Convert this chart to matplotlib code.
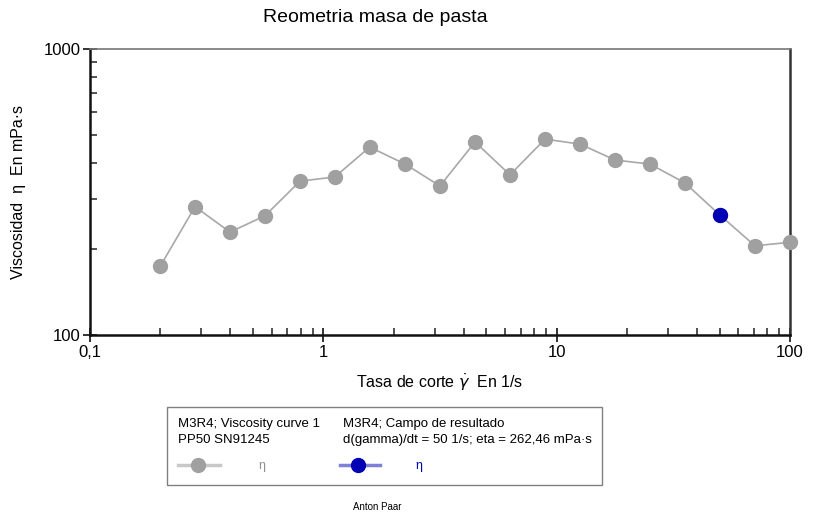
import matplotlib.pyplot as plt
import matplotlib.ticker as mticker
from matplotlib.lines import Line2D
from matplotlib.patches import Rectangle

plt.rcParams['font.family'] = ['Liberation Sans', 'DejaVu Sans']

# shear rate (1/s) and viscosity (mPa.s)
shear_rate = [0.2, 0.282, 0.398, 0.562, 0.794, 1.12, 1.58, 2.24, 3.16, 4.47,
              6.31, 8.91, 12.6, 17.8, 25.1, 35.5, 50.1, 70.8, 100]
viscosity = [174, 281, 229, 261, 345, 357, 454, 396, 332, 473,
             363, 484, 465, 409, 396, 340, 262.46, 205, 211]
# result point
res_x = [50.1]
res_y = [262.46]

W, H = 813, 522
fig = plt.figure(figsize=(W / 100, H / 100), dpi=100)
ax = fig.add_axes([90 / W, 1 - 335 / H, 700 / W, 286 / H])

gray = '#a0a0a0'
blue = '#0000b4'

ax.plot(shear_rate, viscosity, '-', color='#a8a8a8', lw=1.2, marker='o',
        ms=10, mfc=gray, mec=gray, clip_on=False, zorder=3)
ax.plot(res_x, res_y, 'o', ms=10, mfc=blue, mec=blue, clip_on=False, zorder=4)

ax.set_xscale('log')
ax.set_yscale('log')
ax.set_xlim(0.1, 100)
ax.set_ylim(100, 1000)

ax.xaxis.set_major_locator(mticker.FixedLocator([0.1, 1, 10, 100]))
ax.xaxis.set_major_formatter(mticker.FixedFormatter(['0,1', '1', '10', '100']))
ax.yaxis.set_major_locator(mticker.FixedLocator([100, 1000]))
ax.yaxis.set_major_formatter(mticker.FixedFormatter(['100', '1000']))
ax.xaxis.set_minor_locator(mticker.LogLocator(subs=range(2, 10)))
ax.yaxis.set_minor_locator(mticker.LogLocator(subs=range(2, 10)))
ax.xaxis.set_minor_formatter(mticker.NullFormatter())
ax.yaxis.set_minor_formatter(mticker.NullFormatter())

ax.tick_params(which='major', direction='inout', length=10, width=1.3,
               labelsize=12, color='#222222', pad=2)
ax.tick_params(which='minor', direction='in', length=5, width=1.1, color='#222222')

for s in ['left', 'bottom']:
    ax.spines[s].set_linewidth(1.8)
    ax.spines[s].set_color('#111111')
ax.spines['right'].set_linewidth(1.8)
ax.spines['right'].set_color('#333333')
ax.spines['top'].set_linewidth(1.2)
ax.spines['top'].set_color('#777777')

ax.set_xlabel(r'Tasa de corte $\dot{\gamma}$  En 1/s', fontsize=11.5)
ax.set_ylabel('Viscosidad  η  En mPa·s', fontsize=11.5)
ax.xaxis.set_label_coords(0.5, -0.13)
ax.yaxis.set_label_coords(-0.091, 0.5)

fig.text(375 / W, 1 - 18 / H, 'Reometria masa de pasta', ha='center',
         va='center', fontsize=14)

# legend box
fig.patches.append(Rectangle((167 / W, 1 - 485 / H), 435 / W, 78 / H,
                             transform=fig.transFigure, fill=False,
                             ec='#808080', lw=1.0))
fig.text(178 / W, 1 - 424 / H, 'M3R4; Viscosity curve 1', fontsize=9.5, va='center')
fig.text(178 / W, 1 - 440 / H, 'PP50 SN91245', fontsize=9.5, va='center')
fig.text(343 / W, 1 - 424 / H, 'M3R4; Campo de resultado', fontsize=9.5, va='center')
fig.text(343 / W, 1 - 440 / H, 'd(gamma)/dt = 50 1/s; eta = 262,46 mPa·s',
         fontsize=9.5, va='center')
fig.lines.append(Line2D([178 / W, 220 / W], [1 - 465 / H] * 2,
                        transform=fig.transFigure, color='#c8c8c8', lw=2.5))
fig.lines.append(Line2D([198 / W], [1 - 465 / H], transform=fig.transFigure,
                        marker='o', ms=10, mfc=gray, mec=gray))
fig.text(258 / W, 1 - 466 / H, 'η', fontsize=9, color='#909090', va='center')
fig.lines.append(Line2D([340 / W, 380 / W], [1 - 465 / H] * 2,
                        transform=fig.transFigure, color='#8080d8', lw=2.5))
fig.lines.append(Line2D([358 / W], [1 - 465 / H], transform=fig.transFigure,
                        marker='o', ms=10, mfc=blue, mec=blue))
fig.text(415 / W, 1 - 466 / H, 'η', fontsize=9, color=blue, va='center')

fig.text(377 / W, 1 - 507 / H, 'Anton Paar', ha='center', va='center', fontsize=7)

fig.savefig('out.png', dpi=100)
